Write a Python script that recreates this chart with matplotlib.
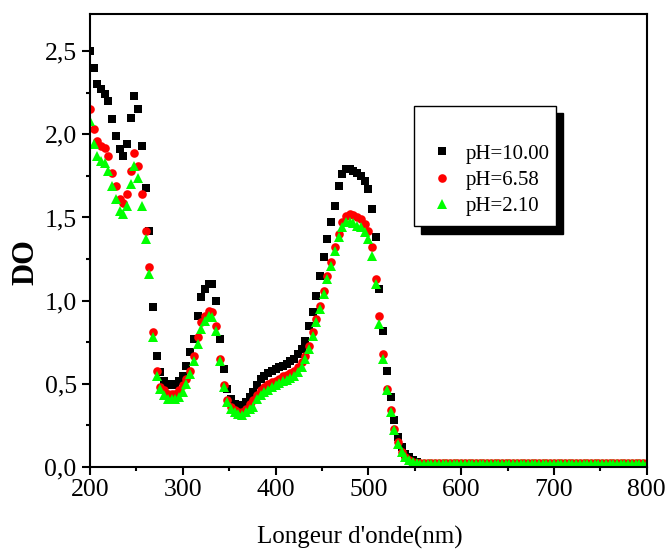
import numpy as np
import matplotlib
matplotlib.use("Agg")
import matplotlib.pyplot as plt
from matplotlib.ticker import MultipleLocator, FuncFormatter
from matplotlib.patches import Rectangle

plt.rcParams['font.family'] = ['Liberation Serif', 'DejaVu Serif']

# wavelength grid (nm)
wavelength = np.arange(200, 801, 4)

# absorbance (DO), 200-552 nm
do_ph10 = [2.50, 2.40, 2.30, 2.27, 2.24, 2.20, 2.09, 1.99, 1.91, 1.87,
           1.94, 2.10, 2.23, 2.15, 1.93, 1.68, 1.42, 0.96, 0.67, 0.57,
           0.52, 0.50, 0.49, 0.50, 0.52, 0.55, 0.61, 0.69, 0.77, 0.91,
           1.02, 1.07, 1.10, 1.10, 1.00, 0.77, 0.59, 0.47, 0.41, 0.38,
           0.37, 0.36, 0.39, 0.42, 0.45, 0.49, 0.53, 0.55, 0.565, 0.58,
           0.59, 0.60, 0.61, 0.62, 0.635, 0.65, 0.68, 0.71, 0.76, 0.85,
           0.93, 1.03, 1.15, 1.26, 1.37, 1.47, 1.57, 1.69, 1.76, 1.79,
           1.79, 1.78, 1.77, 1.75, 1.72, 1.67, 1.55, 1.38, 1.07, 0.82,
           0.58, 0.42, 0.28, 0.18, 0.12, 0.08, 0.06, 0.04, 0.03]
do_ph658 = [2.15, 2.03, 1.96, 1.93, 1.92, 1.87, 1.77, 1.69, 1.61, 1.59,
            1.64, 1.78, 1.89, 1.81, 1.64, 1.42, 1.20, 0.81, 0.58, 0.48,
            0.46, 0.44, 0.44, 0.44, 0.46, 0.49, 0.53, 0.58, 0.67, 0.78,
            0.87, 0.91, 0.94, 0.93, 0.85, 0.65, 0.49, 0.40, 0.36, 0.34,
            0.33, 0.33, 0.35, 0.38, 0.40, 0.43, 0.46, 0.48, 0.50, 0.51,
            0.52, 0.53, 0.545, 0.555, 0.565, 0.575, 0.60, 0.63, 0.67, 0.73,
            0.81, 0.89, 0.97, 1.06, 1.15, 1.23, 1.32, 1.40, 1.47, 1.51,
            1.52, 1.515, 1.50, 1.49, 1.46, 1.42, 1.32, 1.13, 0.91, 0.68,
            0.47, 0.34, 0.23, 0.15, 0.09, 0.06, 0.04, 0.03, 0.025]
do_ph210 = [2.08, 1.94, 1.87, 1.84, 1.83, 1.78, 1.69, 1.61, 1.54, 1.52,
            1.57, 1.70, 1.81, 1.74, 1.57, 1.37, 1.16, 0.78, 0.55, 0.47,
            0.43, 0.41, 0.41, 0.41, 0.42, 0.45, 0.50, 0.56, 0.64, 0.74,
            0.83, 0.88, 0.91, 0.90, 0.82, 0.64, 0.48, 0.39, 0.35, 0.33,
            0.32, 0.31, 0.33, 0.35, 0.36, 0.41, 0.43, 0.45, 0.465, 0.48,
            0.495, 0.505, 0.515, 0.525, 0.535, 0.545, 0.57, 0.60, 0.65, 0.71,
            0.79, 0.87, 0.95, 1.04, 1.13, 1.21, 1.30, 1.38, 1.44, 1.47,
            1.47, 1.465, 1.45, 1.44, 1.41, 1.37, 1.27, 1.10, 0.86, 0.65,
            0.46, 0.33, 0.22, 0.14, 0.09, 0.06, 0.04, 0.03, 0.025]

# flat baseline 556-800 nm (read as ~0.02 for every series)
tail_ph10 = [0.02, 0.02, 0.02, 0.02, 0.02, 0.02, 0.02, 0.02, 0.02, 0.02,
             0.02, 0.02, 0.02, 0.02, 0.02, 0.02, 0.02, 0.02, 0.02, 0.02,
             0.02, 0.02, 0.02, 0.02, 0.02, 0.02, 0.02, 0.02, 0.02, 0.02,
             0.02, 0.02, 0.02, 0.02, 0.02, 0.02, 0.02, 0.02, 0.02, 0.02,
             0.02, 0.02, 0.02, 0.02, 0.02, 0.02, 0.02, 0.02, 0.02, 0.02,
             0.02, 0.02, 0.02, 0.02, 0.02, 0.02, 0.02, 0.02, 0.02, 0.02,
             0.02, 0.02]
tail_ph658 = [0.022, 0.022, 0.022, 0.022, 0.022, 0.022, 0.022, 0.022, 0.022, 0.022,
              0.022, 0.022, 0.022, 0.022, 0.022, 0.022, 0.022, 0.022, 0.022, 0.022,
              0.022, 0.022, 0.022, 0.022, 0.022, 0.022, 0.022, 0.022, 0.022, 0.022,
              0.022, 0.022, 0.022, 0.022, 0.022, 0.022, 0.022, 0.022, 0.022, 0.022,
              0.022, 0.022, 0.022, 0.022, 0.022, 0.022, 0.022, 0.022, 0.022, 0.022,
              0.022, 0.022, 0.022, 0.022, 0.022, 0.022, 0.022, 0.022, 0.022, 0.022,
              0.022, 0.022]
tail_ph210 = [0.02, 0.02, 0.02, 0.02, 0.02, 0.02, 0.02, 0.02, 0.02, 0.02,
              0.02, 0.02, 0.02, 0.02, 0.02, 0.02, 0.02, 0.02, 0.02, 0.02,
              0.02, 0.02, 0.02, 0.02, 0.02, 0.02, 0.02, 0.02, 0.02, 0.02,
              0.02, 0.02, 0.02, 0.02, 0.02, 0.02, 0.02, 0.02, 0.02, 0.02,
              0.02, 0.02, 0.02, 0.02, 0.02, 0.02, 0.02, 0.02, 0.02, 0.02,
              0.02, 0.02, 0.02, 0.02, 0.02, 0.02, 0.02, 0.02, 0.02, 0.02,
              0.02, 0.02]

labels = ["pH=10.00", "pH=6.58", "pH=2.10"]
colors = ["#000000", "#ff0000", "#00ff00"]
markers = ["s", "o", "^"]
series = [do_ph10 + tail_ph10, do_ph658 + tail_ph658, do_ph210 + tail_ph210]

fig = plt.figure(figsize=(6.67, 5.52), dpi=100)
ax = fig.add_axes([0.1348, 0.1540, 0.8348, 0.8205])

sizes = [5.6, 6.2, 7.0]
handles = []
for y, c, m, lab, ms in zip(series, colors, markers, labels, sizes):
    h, = ax.plot(wavelength, y, linestyle="none", marker=m, color=c,
                 markersize=ms, markeredgewidth=0, label=lab)
    handles.append(h)

ax.set_xlim(200, 800)
ax.set_ylim(0, 2.723)
ax.xaxis.set_major_locator(MultipleLocator(100))
ax.xaxis.set_minor_locator(MultipleLocator(50))
ax.yaxis.set_major_locator(MultipleLocator(0.5))
ax.yaxis.set_minor_locator(MultipleLocator(0.25))
ax.yaxis.set_major_formatter(FuncFormatter(lambda v, p: f"{v:.1f}".replace(".", ",")))

for s in ax.spines.values():
    s.set_linewidth(1.5)
ax.tick_params(which="both", direction="out", top=False, right=False, width=1.5)
ax.tick_params(which="major", length=5.5, labelsize=18.5)
ax.tick_params(axis="x", which="major", pad=3)
ax.tick_params(axis="y", which="major", pad=4)
ax.tick_params(which="minor", length=3)

ax.set_xlabel("Longeur d'onde(nm)", fontsize=18, labelpad=18)
ax.xaxis.label.set_x(0.485)
ax.set_ylabel("DO", fontsize=22, fontweight="bold", labelpad=3)
ax.yaxis.label.set_y(0.453)

# legend frame with drop shadow
x0, x1, y0, y1 = 0.582, 0.837, 0.531, 0.798
dx, dy = 0.0126, 0.0155
ax.add_patch(Rectangle((x0 + dx, y0 - dy), x1 - x0, y1 - y0, transform=ax.transAxes,
                       facecolor="black", edgecolor="black", zorder=5, clip_on=False))
ax.add_patch(Rectangle((x0, y0), x1 - x0, y1 - y0, transform=ax.transAxes,
                       facecolor="white", edgecolor="black", linewidth=1.0, zorder=6,
                       clip_on=False))
leg = ax.legend(handles=handles, loc="upper left", bbox_to_anchor=(0.617, 0.713),
                frameon=False, fontsize=15, handlelength=0.8, handletextpad=0.75,
                labelspacing=0.32, borderaxespad=0, borderpad=0)
leg.set_zorder(7)

fig.savefig("out.png", dpi=100)
